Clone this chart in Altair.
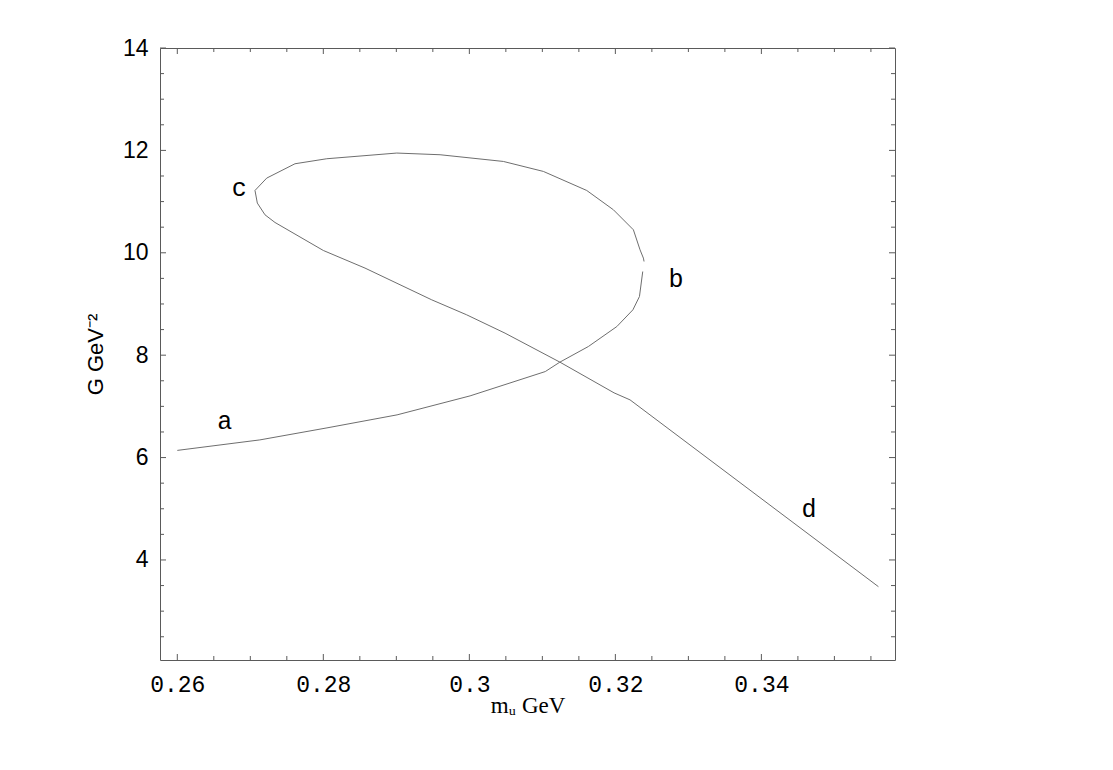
import altair as alt
import pandas as pd

# Branch a -> b
ab_x = [0.2600, 0.2713, 0.2805, 0.2864, 0.2901, 0.3001, 0.3104, 0.3124, 0.3163, 0.3202, 0.3224, 0.3233, 0.32375]
ab_y = [6.14, 6.345, 6.58, 6.736, 6.834, 7.205, 7.680, 7.864, 8.169, 8.559, 8.886, 9.146, 9.634]

# Branch b -> c -> d
bcd_x = [0.32393, 0.32384, 0.32338, 0.32247, 0.31973, 0.31608, 0.31014, 0.30466, 0.29599, 0.29006,
         0.28047, 0.27612, 0.27225, 0.27064, 0.27096, 0.27201, 0.27338, 0.2800, 0.28571, 0.29485,
         0.29964, 0.30489, 0.3124, 0.31982, 0.32201, 0.35603]
bcd_y = [9.830, 9.896, 10.058, 10.449, 10.840, 11.217, 11.589, 11.784, 11.915, 11.948,
         11.837, 11.739, 11.459, 11.217, 10.971, 10.742, 10.592, 10.045, 9.701, 9.081,
         8.788, 8.430, 7.864, 7.264, 7.127, 3.478]

lab_text = ["a", "b", "c", "d"]
lab_x = [0.26649, 0.32829, 0.26848, 0.34653]
lab_y = [6.554, 9.341, 11.10, 4.846]

x_major = [0.26, 0.28, 0.30, 0.32, 0.34]
x_minor = [0.265, 0.27, 0.275, 0.285, 0.29, 0.295, 0.305, 0.31, 0.315, 0.325, 0.33, 0.335, 0.345, 0.35, 0.355]
y_major = [4, 6, 8, 10, 12, 14]
y_minor = [2.5, 3, 3.5, 4.5, 5, 5.5, 6.5, 7, 7.5, 8.5, 9, 9.5, 10.5, 11, 11.5, 12.5, 13, 13.5]

X_DOM = [0.25763, 0.3583]
Y_DOM = [2.046, 14.0]
W, H = 735, 612
LINE = "#6e6e6e"
FRAME = "#5a5a5a"

rows = []
for i, (x, y) in enumerate(zip(ab_x, ab_y)):
    rows.append({"x": x, "y": y, "seg": "ab", "o": i})
for i, (x, y) in enumerate(zip(bcd_x, bcd_y)):
    rows.append({"x": x, "y": y, "seg": "bcd", "o": i})
curve = pd.DataFrame(rows)

xs = alt.Scale(domain=X_DOM, nice=False, zero=False)
ys = alt.Scale(domain=Y_DOM, nice=False, zero=False)

x_axis = alt.Axis(
    values=x_major, format="~g", ticks=False, domain=False, grid=False,
    labelFont="Liberation Mono", labelFontSize=23, labelColor="black",
    labelPadding=13, title="mᵤ GeV", titleFont="Liberation Serif",
    titleFontSize=23, titleFontWeight="normal", titleColor="black",
    titleBaseline="alphabetic", titleY=52)
y_axis = alt.Axis(
    values=y_major, format="~g", ticks=False, domain=False, grid=False,
    labelFont="Liberation Sans", labelFontSize=23, labelColor="black",
    labelPadding=12, title="G GeV⁻²", titleFont="Liberation Sans",
    titleFontSize=22, titleFontWeight="normal", titleColor="black",
    titleX=-58, titleY=H / 2, titleBaseline="alphabetic")

line = alt.Chart(curve).mark_line(color=LINE, strokeWidth=1).encode(
    x=alt.X("x:Q", scale=xs, axis=x_axis, title="mᵤ GeV"),
    y=alt.Y("y:Q", scale=ys, axis=y_axis, title="G GeV⁻²"),
    detail="seg:N",
    order="o:Q",
)

labels = alt.Chart(pd.DataFrame({"t": lab_text, "x": lab_x, "y": lab_y})).mark_text(
    font="Liberation Mono", fontSize=25, color="black", baseline="alphabetic", align="center"
).encode(
    x=alt.X("x:Q", scale=xs, axis=x_axis, title="mᵤ GeV"),
    y=alt.Y("y:Q", scale=ys, axis=y_axis, title="G GeV⁻²"),
    text="t:N",
)

def xticks(vals, length):
    d = pd.DataFrame({"v": vals})
    enc_x = alt.X("v:Q", scale=xs, axis=x_axis, title="mᵤ GeV")
    bottom = alt.Chart(d).mark_rule(color=FRAME, strokeWidth=1).encode(
        x=enc_x, y=alt.value(H), y2=alt.value(H - length))
    top = alt.Chart(d).mark_rule(color=FRAME, strokeWidth=1).encode(
        x=enc_x, y=alt.value(0), y2=alt.value(length))
    return [bottom, top]

def yticks(vals, length):
    d = pd.DataFrame({"v": vals})
    enc_y = alt.Y("v:Q", scale=ys, axis=y_axis, title="G GeV⁻²")
    left = alt.Chart(d).mark_rule(color=FRAME, strokeWidth=1).encode(
        y=enc_y, x=alt.value(0), x2=alt.value(length))
    right = alt.Chart(d).mark_rule(color=FRAME, strokeWidth=1).encode(
        y=enc_y, x=alt.value(W), x2=alt.value(W - length))
    return [left, right]

layers = [line, labels] + xticks(x_major, 6) + xticks(x_minor, 4) + yticks(y_major, 6) + yticks(y_minor, 4)

chart = alt.layer(*layers).properties(
    width=W, height=H,
    autosize=alt.AutoSizeParams(type="none"),
    padding={"left": 152, "top": 40, "right": 210, "bottom": 102},
    background="white",
).configure_view(stroke=FRAME, strokeWidth=1)

chart.save("out.html", embed_options={"renderer": "svg", "actions": False})
